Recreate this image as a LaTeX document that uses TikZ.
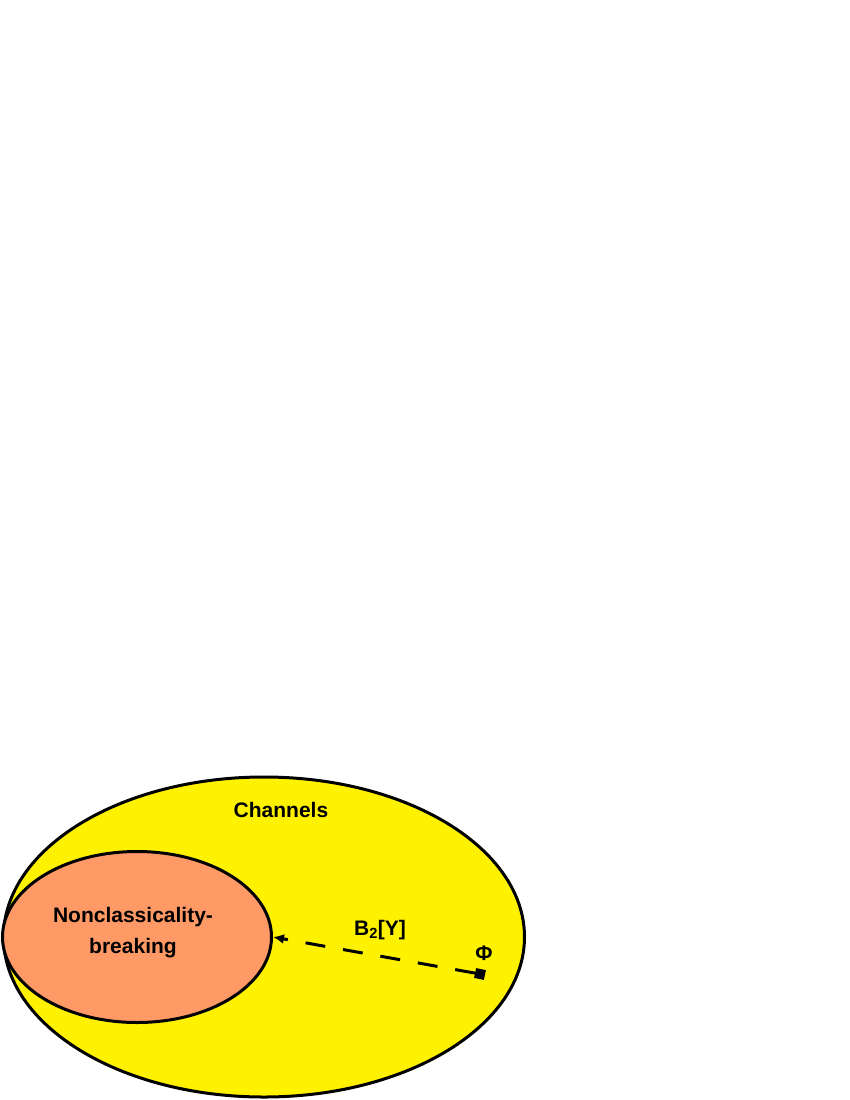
\documentclass[tikz,border=0pt]{standalone}
\usepackage{fontspec}
\setmainfont{Liberation Sans}
\usetikzlibrary{arrows.meta,shapes.geometric}
\begin{document}
\begin{tikzpicture}[x=1pt,y=-1pt]
    \useasboundingbox (0,0) rectangle (850,1100);

    % Define sets
    \node[draw, line width=3pt, fill=yellow, ellipse, minimum width=521pt, minimum height=320pt, inner sep=0pt] (channels) at (264,937) {};
    \node[draw, line width=3pt, fill={rgb,255:red,255;green,153;blue,102}, ellipse, minimum width=269pt, minimum height=171pt, inner sep=0pt] (ncb) at (137,937) {};

    % Add labels
    \node[font=\bfseries\fontsize{21}{25}\selectfont] (chlabel) at (281,810) {Channels};
    \node[font=\bfseries\fontsize{21}{31}\selectfont, align=center] (ncblabel) at (133,933) {Nonclassicality-\\breaking};
    \node[font=\bfseries\fontsize{21}{25}\selectfont] (blabel) at (380,930) {B\textsubscript{2}[Y]};
    \node[font=\bfseries\fontsize{21}{25}\selectfont] (philabel) at (484,953) {Φ};

    % Draw the point and the map
    \node[fill=black, minimum size=10pt, inner sep=0pt, rotate=-12] (phi) at (480,974) {};
    \draw[line width=3pt, dash pattern=on 20pt off 18pt, -{Latex[length=11pt,width=10pt]}] (phi) -- (ncb.east);

\end{tikzpicture}
\end{document}
